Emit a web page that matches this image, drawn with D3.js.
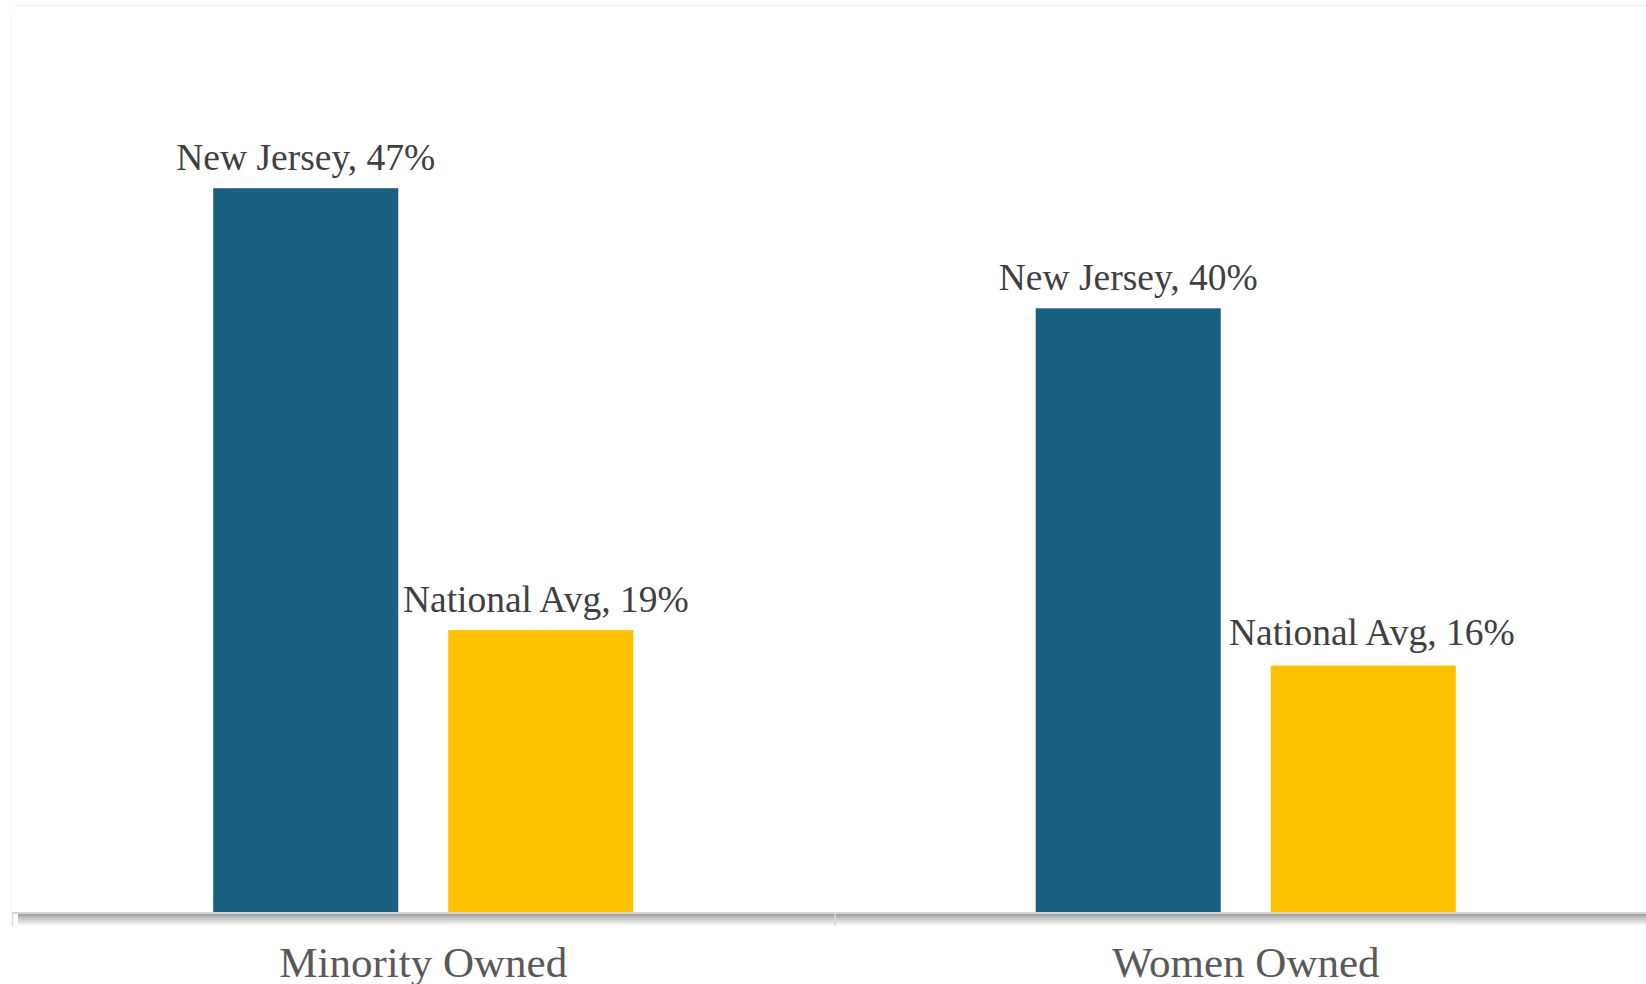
<!DOCTYPE html>
<html>
<head>
<meta charset="utf-8">
<script src="https://cdn.jsdelivr.net/npm/d3@7"></script>
<style>
  body { margin:0; padding:0; background:#ffffff; overflow:hidden; }
</style>
</head>
<body>
<script>

//******************************************************************************
// Data ************************************************************************

    var categories = ["Minority Owned", "Women Owned"]; // x axis groups
    var seriesNames = ["New Jersey", "National Avg"]; // bars inside a group

    var newJersey = [47.0, 39.2]; // bar heights (%)
    var nationalAvg = [18.3, 16.0];

    var newJerseyLabels = ["47%", "40%"]; // data labels as printed
    var nationalAvgLabels = ["19%", "16%"];

    var seriesColors = ["#185f81", "#ffc000"];


//******************************************************************************
// Variables *******************************************************************

    var windowSettings = {
        width : 1646,//px
        height : 984,//px
    };

    var graphSettings = {
        axisLeft : 12,//px  x of the first category tick
        axisRight : 1657,//px  the plot runs past the right edge
        baseline : 912,//px  y of the category axis
        topValue : 50,
        topY : 142,//px  y of topValue

        labelFont : "'Liberation Serif','Times New Roman',serif",
        labelSize : 37.5,//px
        labelColor : "#404040",
        labelGap : 18,//px  between bar top and label baseline
        catSize : 43,//px
        catColor : "#595959",

        // hand-moved labels in the original, [New Jersey, National Avg] per category
        labelDx : [[0, 5], [0, 8.5]],//px
        labelDy : [[0, 0], [0, -3]],//px
    };


//******************************************************************************
// Initialization **************************************************************

    var svg = d3.select("body").append("svg")
        .attr("width", windowSettings.width)
        .attr("height", windowSettings.height);

    var defs = svg.append("defs");

    var shadow = defs.append("linearGradient") // drop shadow under the axis
        .attr("id", "axisShadow")
        .attr("x1", 0).attr("y1", 0)
        .attr("x2", 0).attr("y2", 1);
    shadow.append("stop").attr("offset", "0%").attr("stop-color", "#9b9b9b");
    shadow.append("stop").attr("offset", "35%").attr("stop-color", "#c4c4c4");
    shadow.append("stop").attr("offset", "100%").attr("stop-color", "#ffffff");

    var x0 = d3.scaleBand() // categories
        .domain(categories)
        .range([graphSettings.axisLeft, graphSettings.axisRight])
        .padding(0);

    var x1 = d3.scaleBand() // series inside a category
        .domain(seriesNames)
        .range([0, x0.bandwidth()])
        .paddingInner(0.2128)
        .paddingOuter(0.856);

    var y = d3.scaleLinear()
        .domain([0, graphSettings.topValue])
        .range([graphSettings.baseline, graphSettings.topY]);

    var rows = categories.map((c, i) => ({ // table for the join
        category : c,
        bars : [
            { name : seriesNames[0], value : newJersey[i], label : newJerseyLabels[i], color : seriesColors[0],
              dx : graphSettings.labelDx[i][0], dy : graphSettings.labelDy[i][0] },
            { name : seriesNames[1], value : nationalAvg[i], label : nationalAvgLabels[i], color : seriesColors[1],
              dx : graphSettings.labelDx[i][1], dy : graphSettings.labelDy[i][1] },
        ]
    }));


//******************************************************************************
// Prog ************************************************************************

    drawFrame();
    drawBars();
    drawAxis();


//******************************************************************************
// Functions *******************************************************************

    function drawFrame(){ // very faint chart border
        svg.append("line")
            .attr("x1", 15).attr("y1", 5.5)
            .attr("x2", windowSettings.width).attr("y2", 5.5)
            .style("stroke", "#f4f4f4").style("stroke-width", 2);

        svg.append("line")
            .attr("x1", 11).attr("y1", 13)
            .attr("x2", 11).attr("y2", graphSettings.baseline)
            .style("stroke", "#f6f6f6").style("stroke-width", 1.5);
    }


    function drawBars(){ // bars and their labels
        var groups = svg.selectAll("g.group")
            .data(rows)
            .join("g")
            .attr("class", "group")
            .attr("transform", d => "translate(" + x0(d.category) + ",0)");

        groups.selectAll("rect")
            .data(d => d.bars)
            .join("rect")
            .attr("x", d => x1(d.name))
            .attr("y", d => y(d.value))
            .attr("width", x1.bandwidth())
            .attr("height", d => y(0) - y(d.value))
            .attr("fill", d => d.color);

        groups.selectAll("text")
            .data(d => d.bars)
            .join("text")
            .attr("x", d => x1(d.name) + x1.bandwidth() / 2 + d.dx)
            .attr("y", d => y(d.value) - graphSettings.labelGap + d.dy)
            .attr("text-anchor", "middle")
            .style("font-family", graphSettings.labelFont)
            .style("font-size", graphSettings.labelSize + "px")
            .style("fill", graphSettings.labelColor)
            .text(d => d.name + ", " + d.label);
    }


    function drawAxis(){ // category axis with its shadow
        var b = graphSettings.baseline;

        svg.append("rect")
            .attr("x", graphSettings.axisLeft + 6)
            .attr("y", b + 2)
            .attr("width", graphSettings.axisRight - graphSettings.axisLeft)
            .attr("height", 12)
            .attr("fill", "url(#axisShadow)");

        svg.append("line")
            .attr("x1", graphSettings.axisLeft).attr("y1", b + 1)
            .attr("x2", graphSettings.axisRight).attr("y2", b + 1)
            .style("stroke", "#d6d6d6").style("stroke-width", 2);

        var edges = x0.domain().map(c => x0(c)); // category boundaries
        svg.selectAll("line.tick")
            .data(edges)
            .join("line")
            .attr("class", "tick")
            .attr("x1", d => d + 0.5).attr("x2", d => d + 0.5)
            .attr("y1", b).attr("y2", b + 14)
            .style("stroke", "#d9d9d9").style("stroke-width", 1.5);

        svg.selectAll("text.cat") // category names, cut by the bottom edge as in the original
            .data(categories)
            .join("text")
            .attr("class", "cat")
            .attr("x", d => x0(d) + x0.bandwidth() / 2)
            .attr("y", 977)
            .attr("text-anchor", "middle")
            .style("font-family", graphSettings.labelFont)
            .style("font-size", graphSettings.catSize + "px")
            .style("fill", graphSettings.catColor)
            .text(d => d);
    }

</script>
</body>
</html>
